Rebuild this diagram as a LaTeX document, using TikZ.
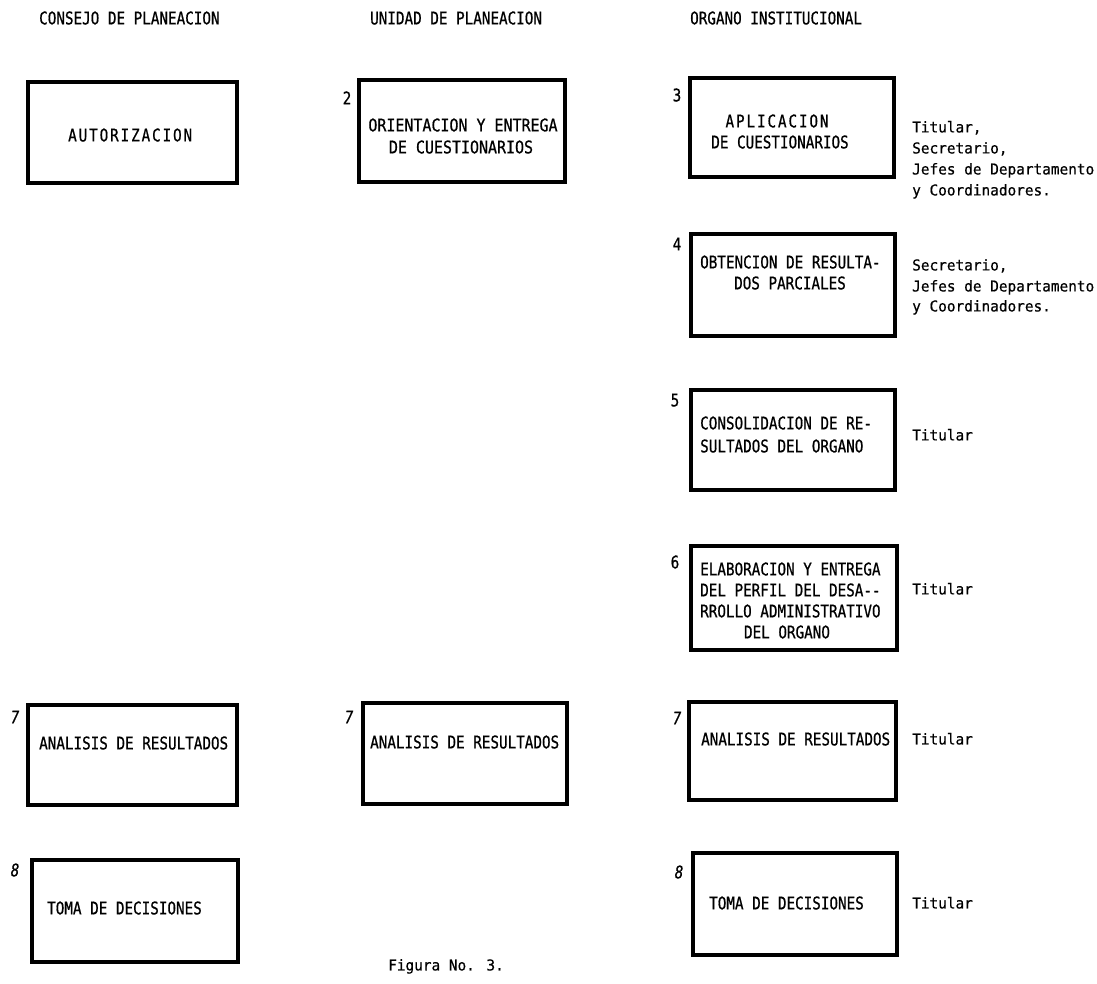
\documentclass[tikz,border=0pt]{standalone}
\usepackage{fontspec}
\newfontfamily\boxfont[FakeStretch=0.82,FakeBold=0.7]{DejaVu Sans Mono}
\newfontfamily\boxwide[FakeStretch=0.86,FakeBold=0.7]{DejaVu Sans Mono}
\newfontfamily\sidefont[FakeStretch=0.96,FakeBold=0.5]{DejaVu Sans Mono}
\newfontfamily\numfont[FakeStretch=0.82,FakeBold=0.7,FakeSlant=0.15]{DejaVu Sans Mono}
\def\spaced#1{\spacedi#1\relax}
\def\spacedi#1{\ifx#1\relax\else#1\kern1.9pt\expandafter\spacedi\fi}
\begin{document}
\begin{tikzpicture}[x=1pt,y=-1pt,
  bx/.style={draw=black, line width=3.1pt, inner sep=0pt},
  txt/.style={font=\boxfont\fontsize{17.4}{20}\selectfont, inner sep=0pt, text height=12.7pt, text depth=0pt},
  wtxt/.style={txt, font=\boxwide\fontsize{17.4}{20}\selectfont},
  side/.style={font=\sidefont\fontsize{15}{18}\selectfont, inner sep=0pt, text height=10.9pt, text depth=0pt},
  num/.style={txt},
  snum/.style={txt, font=\numfont\fontsize{17.4}{20}\selectfont}]
\useasboundingbox[fill=white] (0,0) rectangle (1097,983);

% headers
\node[txt, anchor=west] (h1) at (39,18) {CONSEJO DE PLANEACION};
\node[txt, anchor=west] (h2) at (370,18) {UNIDAD DE PLANEACION};
\node[txt, anchor=west] (h3) at (690,18) {ORGANO INSTITUCIONAL};

% boxes
\node[bx, minimum width=209pt, minimum height=101pt] (b1) at (132.5,132.5) {};
\node[bx, minimum width=206pt, minimum height=102pt] (b2) at (462,131) {};
\node[bx, minimum width=204pt, minimum height=99pt] (b3) at (792,127.5) {};
\node[bx, minimum width=204pt, minimum height=102pt] (b4) at (793,285) {};
\node[bx, minimum width=204pt, minimum height=100pt] (b5) at (793,440) {};
\node[bx, minimum width=206pt, minimum height=104pt] (b6) at (794,598) {};
\node[bx, minimum width=209pt, minimum height=100pt] (b7l) at (132.5,755) {};
\node[bx, minimum width=204pt, minimum height=101pt] (b7m) at (465,753.5) {};
\node[bx, minimum width=207pt, minimum height=98pt] (b7r) at (792.5,751) {};
\node[bx, minimum width=206pt, minimum height=102pt] (b8l) at (135,911) {};
\node[bx, minimum width=204pt, minimum height=102pt] (b8r) at (795,904) {};

% box texts
\node[txt, anchor=west] (t1) at (68,135) {\spaced{AUTORIZACION}};
\node[wtxt] (t2a) at (463,125) {ORIENTACION Y ENTREGA};
\node[wtxt] (t2b) at (461,147) {DE CUESTIONARIOS};
\node[txt] (t3a) at (778,121) {\spaced{APLICACION}};
\node[txt] (t3b) at (780,142) {DE CUESTIONARIOS};
\node[txt, anchor=west] (t4a) at (700,262) {OBTENCION DE RESULTA-};
\node[txt] (t4b) at (790,283) {DOS PARCIALES};
\node[txt, anchor=west] (t5a) at (700,423) {CONSOLIDACION DE RE-};
\node[txt, anchor=west] (t5b) at (700,446) {SULTADOS DEL ORGANO};
\node[txt, anchor=west] (t6a) at (700,569) {ELABORACION Y ENTREGA};
\node[txt, anchor=west] (t6b) at (700,590) {DEL PERFIL DEL DESA--};
\node[txt, anchor=west] (t6c) at (700,611) {RROLLO ADMINISTRATIVO};
\node[txt] (t6d) at (787,632) {DEL ORGANO};
\node[txt, anchor=west] (t7l) at (39,743) {ANALISIS DE RESULTADOS};
\node[txt, anchor=west] (t7m) at (370,742) {ANALISIS DE RESULTADOS};
\node[txt, anchor=west] (t7r) at (701,739) {ANALISIS DE RESULTADOS};
\node[txt, anchor=west] (t8l) at (47,908) {TOMA DE DECISIONES};
\node[txt, anchor=west] (t8r) at (709,903) {TOMA DE DECISIONES};

% numbers
\node[num] (n2) at (347,98) {2};
\node[num] (n3) at (677,95) {3};
\node[num] (n4) at (677,244) {4};
\node[num] (n5) at (675,400) {5};
\node[num] (n6) at (675,562) {6};
\node[snum] (n7l) at (14,717) {7};
\node[snum] (n7m) at (348,717) {7};
\node[snum] (n7r) at (676,718) {7};
\node[snum] (n8l) at (14,870) {8};
\node[snum] (n8r) at (678,872) {8};

% side texts
\node[side, anchor=west] (s3a) at (912,127) {Titular,};
\node[side, anchor=west] (s3b) at (912,148) {Secretario,};
\node[side, anchor=west] (s3c) at (912,169) {Jefes de Departamento};
\node[side, anchor=west] (s3d) at (912,190) {y Coordinadores.};
\node[side, anchor=west] (s4a) at (912,265) {Secretario,};
\node[side, anchor=west] (s4b) at (912,286) {Jefes de Departamento};
\node[side, anchor=west] (s4c) at (912,306) {y Coordinadores.};
\node[side, anchor=west] (s5) at (912,435) {Titular};
\node[side, anchor=west] (s6) at (912,589) {Titular};
\node[side, anchor=west] (s7) at (912,739) {Titular};
\node[side, anchor=west] (s8) at (912,903) {Titular};

\node[side, anchor=west] (fig) at (388,965) {Figura No. 3.};
\end{tikzpicture}
\end{document}
